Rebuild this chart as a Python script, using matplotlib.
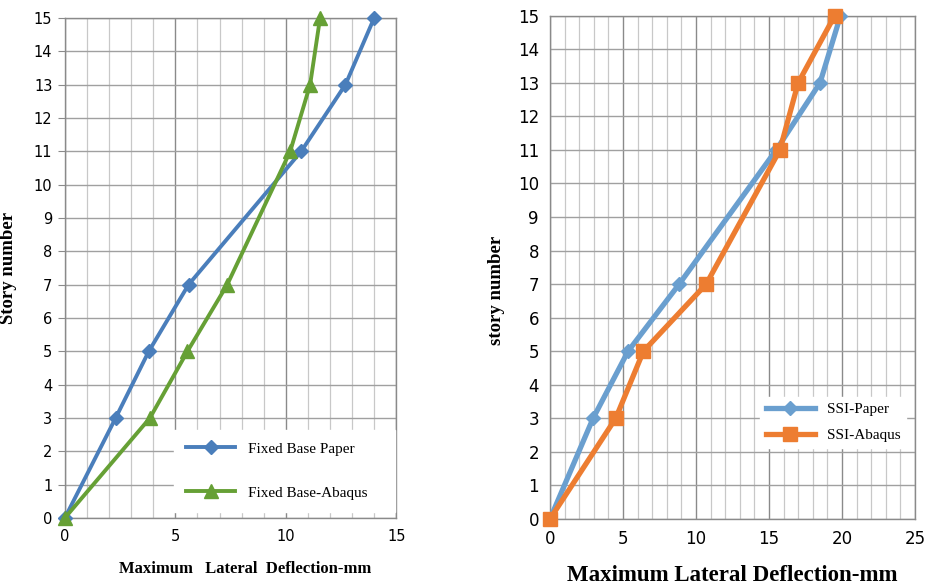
import matplotlib.pyplot as plt
from matplotlib.ticker import MultipleLocator

# story levels
stories = [0, 3, 5, 7, 11, 13, 15]

# fixed base (left panel)
fixed_paper = [0, 2.3, 3.8, 5.6, 10.7, 12.7, 14.0]
fixed_abaqus = [0, 3.85, 5.55, 7.35, 10.2, 11.1, 11.55]

# soil-structure interaction (right panel)
ssi_paper = [0, 2.95, 5.35, 8.85, 15.5, 18.5, 19.9]
ssi_abaqus = [0, 4.5, 6.4, 10.7, 15.75, 17.0, 19.5]

serif = 'Liberation Serif'

fig = plt.figure(figsize=(9.26, 5.85), dpi=100)
ax1 = fig.add_axes([0.070, 0.1145, 0.358, 0.855])
ax2 = fig.add_axes([0.594, 0.113, 0.394, 0.860])


def style_axes(ax, xmax):
    ax.set_xlim(0, xmax)
    ax.set_ylim(0, 15)
    ax.xaxis.set_major_locator(MultipleLocator(5))
    ax.xaxis.set_minor_locator(MultipleLocator(1))
    ax.yaxis.set_major_locator(MultipleLocator(1))
    ax.grid(which='minor', axis='x', color='#c8c8c8', lw=0.9)
    ax.grid(which='major', axis='x', color='#8a8a8a', lw=1.0)
    ax.grid(which='major', axis='y', color='#a0a0a0', lw=1.0)
    ax.set_axisbelow(True)
    ax.tick_params(which='both', length=0, pad=8)
    for s in ax.spines.values():
        s.set_color('#8a8a8a')
        s.set_linewidth(1.0)


# left: fixed base
style_axes(ax1, 15)
ax1.plot(fixed_paper, stories, color='#4a7ebb', lw=2.8, marker='D', ms=7,
         label='Fixed Base Paper', clip_on=False, zorder=3)
ax1.plot(fixed_abaqus, stories, color='#66a035', lw=2.8, marker='^', ms=10,
         label='Fixed Base-Abaqus', clip_on=False, zorder=3)
ax1.tick_params(labelsize=10.5)
ax1.tick_params(axis='y', length=5, color='#8a8a8a', pad=4)
ax1.set_xlabel('Maximum   Lateral  Deflection-mm', fontfamily=serif,
               fontweight='bold', fontsize=12)
ax1.xaxis.set_label_coords(0.545, -0.085)
ax1.set_ylabel('Story number', fontfamily=serif, fontweight='bold',
               fontsize=13.5)
ax1.yaxis.set_label_coords(-0.145, 0.5)
ax1.legend(loc='lower left', bbox_to_anchor=(0.33, 0.012, 0.665, 0.185),
           mode='expand', frameon=True, fancybox=False, edgecolor='white',
           framealpha=1, prop={'family': serif, 'size': 11},
           labelspacing=2.0, handlelength=3.2, borderaxespad=0,
           borderpad=0.8)

# right: SSI
style_axes(ax2, 25)
ax2.plot(ssi_paper, stories, color='#6a9fcf', lw=3.8, marker='D', ms=7,
         label='SSI-Paper', clip_on=False, zorder=3)
ax2.plot(ssi_abaqus, stories, color='#ed7d31', lw=3.8, marker='s', ms=10,
         label='SSI-Abaqus', clip_on=False, zorder=3)
ax2.tick_params(labelsize=12)
ax2.set_xlabel('Maximum Lateral Deflection-mm', fontfamily=serif,
               fontweight='bold', fontsize=16.5, labelpad=12)
ax2.set_ylabel('story number', fontfamily=serif, fontweight='bold',
               fontsize=13.5)
ax2.yaxis.set_label_coords(-0.123, 0.455)
ax2.legend(loc='lower left', bbox_to_anchor=(0.575, 0.14, 0.4, 0.11),
           mode='expand', frameon=True, fancybox=False, edgecolor='white',
           framealpha=1, prop={'family': serif, 'size': 11},
           labelspacing=0.8, handlelength=3.2, borderaxespad=0)

fig.savefig('out.png', dpi=100)
